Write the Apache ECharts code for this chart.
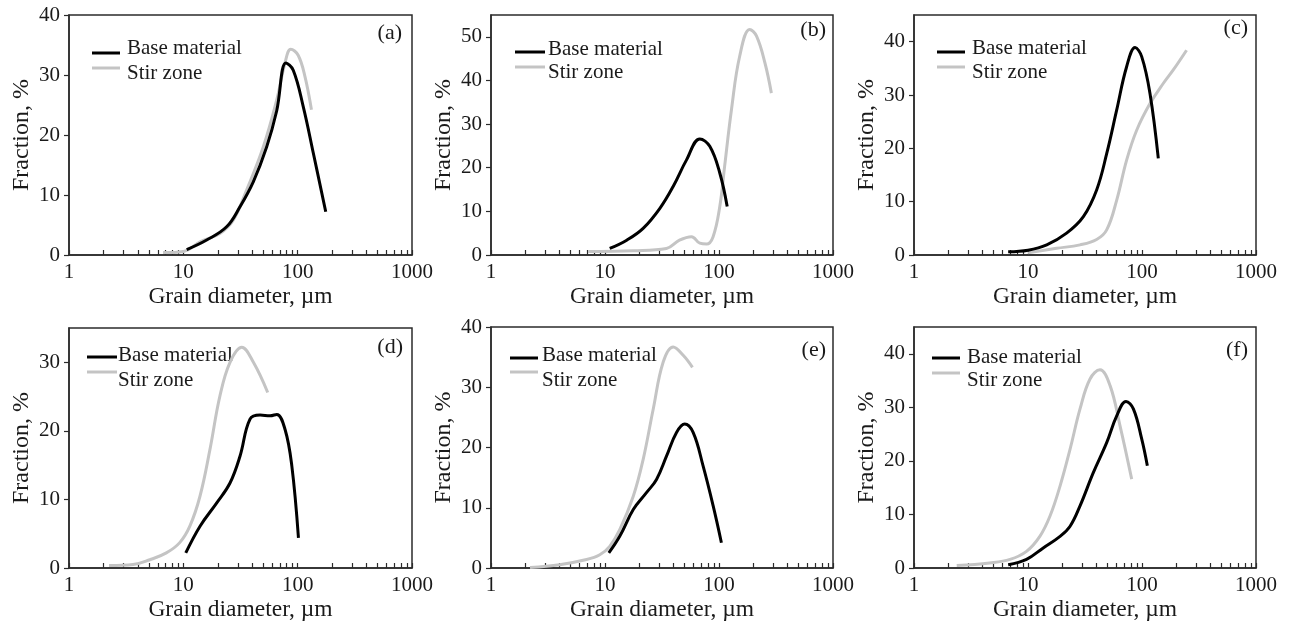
<!DOCTYPE html>
<html>
<head>
<meta charset="utf-8">
<script src="https://cdn.jsdelivr.net/npm/echarts@6/dist/echarts.min.js"></script>
<style>html,body{margin:0;padding:0;background:#fff}#c{width:1291px;height:623px}</style>
</head>
<body>
<div id="c"></div>
<script>
// ---- data: [grain diameter (µm), fraction (%)] ----
const baseA = [[10.7,0.9],[16,2.5],[23.9,4.7],[31.2,8],[40.9,12.2],[53.5,18],[65.5,24],[79,32],[91.5,30.8],[112,24.7],[137,17],[176,7.2]];
const stirA = [[6.65,0.4],[10,0.6],[14,2.2],[20.9,3.6],[27.3,5.8],[35.7,10.8],[50,18],[65.5,25.8],[77.5,32],[87,34.3],[101,33.3],[116,29.7],[132,24.2]];
const baseB = [[11,1.5],[15.5,3.4],[21.6,6.1],[30.3,10.7],[39.6,15.7],[51.9,21.8],[67.9,26.6],[83,24.9],[101.6,18.8],[118,11.1]];
const stirB = [[7.1,0.8],[17.7,1.0],[34.6,1.5],[45,3.4],[57.4,4.2],[67.9,2.7],[77.7,2.5],[88.8,4.2],[101.6,11.1],[112,20.3],[128.6,33.3],[152,45.6],[186,51.7],[213,50.2],[253,44],[288,37.1]];
const baseC = [[6.7,0.6],[10,0.9],[14.6,1.9],[21.8,4.1],[30.6,7.2],[40,12.2],[49,19],[60,27.2],[73.3,35.3],[87,38.9],[99.4,37.2],[117.5,30.3],[139,18.1]];
const stirC = [[10,0.4],[17.8,1.25],[28.6,1.9],[40,2.9],[49,4.7],[60,10.3],[73.3,17.8],[89.8,23.4],[117.5,28.4],[154,32.2],[188,34.7],[246,38.4]];
const baseD = [[10.5,2.2],[14,6.1],[19.6,9.5],[25.6,12.4],[31.3,16.3],[38.3,21.7],[46.9,22.3],[57.4,22.2],[65.6,22.4],[77.6,20.2],[88.9,14.9],[101.6,4.4]];
const stirD = [[2.24,0.35],[3.64,0.5],[5.1,1.2],[7.1,2.2],[9.3,3.7],[11.4,6.1],[14,10.5],[17.1,17.3],[20.9,25.1],[25.6,30],[32.4,32.2],[41,30],[54.7,25.6]];
const baseE = [[10.8,2.5],[13.5,5.3],[17.7,9.7],[23.1,12.5],[28.3,14.7],[34.7,18.6],[42.4,22.5],[50,23.9],[59.3,22.5],[72.6,16.9],[88.9,10.3],[105,4.2]];
const stirE = [[2.2,0.1],[4.0,0.55],[6.9,1.4],[9.0,2.2],[11,3.6],[13.5,6.4],[17.7,11.9],[21.6,18],[26.5,26.4],[32.4,34.2],[39.6,36.7],[48.5,35.3],[58.5,33.3]];
const baseF = [[6.7,0.6],[9.7,1.6],[13.6,3.75],[19.1,5.9],[23.4,7.8],[28.6,11.6],[37.4,17.8],[49,23.4],[60,28.4],[72.4,31.1],[84,29.7],[99.4,24.1],[111.4,19.1]];
const stirF = [[2.37,0.45],[4.6,0.95],[6.95,1.6],[9.7,3.1],[12.7,5.9],[15.6,9.7],[19.1,15.3],[23.4,22.2],[28.6,29.7],[35,35.3],[42.8,37],[52.4,34.1],[64.1,26.6],[81.2,16.6]];

const panelLabels = ['(a)','(b)','(c)','(d)','(e)','(f)'];
const yMaxes = [40, 55, 45, 35, 40, 45];
const yTickValues = [[0,10,20,30,40],[0,10,20,30,40,50],[0,10,20,30,40],[0,10,20,30],[0,10,20,30,40],[0,10,20,30,40]];
const xTickValues = [1,2,3,4,5,6,7,8,9,10,20,30,40,50,60,70,80,90,100,200,300,400,500,600,700,800,900,1000];
const xLabelValues = [1, 10, 100, 1000];
const seriesNames = ['Base material', 'Stir zone'];
const xName = 'Grain diameter, µm';
const yName = 'Fraction, %';

const baseSets = [baseA, baseB, baseC, baseD, baseE, baseF];
const stirSets = [stirA, stirB, stirC, stirD, stirE, stirF];

// ---- layout ----
const grids = [
  {left: 69, top: 15, width: 343, height: 240},
  {left: 491, top: 15, width: 342, height: 240},
  {left: 914, top: 15, width: 342, height: 240},
  {left: 69, top: 328, width: 343, height: 240},
  {left: 491, top: 327, width: 342, height: 241},
  {left: 914, top: 327, width: 342, height: 241}
];
// legend: [lineStart, lineEnd, textX, line1Y, line2Y, text1Y, text2Y] relative to grid
const legendPos = [
  [23, 51, 58, 38, 53, 33, 58],
  [24, 54, 57, 37, 52, 34, 57],
  [23, 51, 58, 37, 52, 33, 57],
  [18, 48, 49, 29, 44, 27, 52],
  [19, 47, 51, 31, 45, 28, 53],
  [18, 46, 53, 31, 46, 30, 53]
];
// panel label: right x offset from grid right, y relative to grid top
const labelPos = [[10, 18], [7, 15], [8, 13], [9, 19], [7, 23], [8, 23]];

const FONT = 'Liberation Serif';
const BLACK = '#000000';
const GREY = '#c4c4c4';
const AX = '#2b2b2b';
const TXT = '#1a1a1a';

const option = {
  backgroundColor: '#ffffff',
  animation: false,
  textStyle: {fontFamily: FONT},
  grid: [], xAxis: [], yAxis: [], series: [], graphic: []
};

grids.forEach((g, i) => {
  option.grid.push(Object.assign({show: true, borderColor: AX, borderWidth: 1.5, backgroundColor: 'transparent'}, g));
  option.xAxis.push({
    type: 'log', logBase: 10, min: 1, max: 1000, gridIndex: i,
    name: xName, nameLocation: 'middle', nameGap: 30,
    nameTextStyle: {fontFamily: FONT, fontSize: 23.5, color: TXT},
    axisLine: {show: true, lineStyle: {color: AX, width: 1.5}},
    axisTick: {show: true, inside: true, length: 5, customValues: xTickValues, lineStyle: {color: AX, width: 1.2}},
    axisLabel: {fontFamily: FONT, fontSize: 21, color: TXT, margin: 7, customValues: xLabelValues,
      formatter: v => String(Math.round(v))},
    splitLine: {show: false}
  });
  option.yAxis.push({
    type: 'value', min: 0, max: yMaxes[i], interval: 10, gridIndex: i,
    name: yName, nameLocation: 'middle', nameGap: 35,
    nameTextStyle: {fontFamily: FONT, fontSize: 24, color: TXT},
    axisLine: {show: true, lineStyle: {color: AX, width: 1.5}},
    axisTick: {show: true, inside: false, length: 5, customValues: yTickValues[i], lineStyle: {color: AX, width: 1.2}},
    axisLabel: {fontFamily: FONT, fontSize: 21, color: TXT, margin: 9, customValues: yTickValues[i]},
    splitLine: {show: false}
  });
  option.series.push({
    name: seriesNames[1], type: 'line', xAxisIndex: i, yAxisIndex: i,
    data: stirSets[i], smooth: 0.4, symbol: 'none',
    lineStyle: {color: GREY, width: 3}, itemStyle: {color: GREY}, z: 2
  });
  option.series.push({
    name: seriesNames[0], type: 'line', xAxisIndex: i, yAxisIndex: i,
    data: baseSets[i], smooth: 0.4, symbol: 'none',
    lineStyle: {color: BLACK, width: 3}, itemStyle: {color: BLACK}, z: 3
  });
  const lp = legendPos[i];
  option.graphic.push(
    {type: 'line', shape: {x1: g.left + lp[0], y1: g.top + lp[3], x2: g.left + lp[1], y2: g.top + lp[3]}, style: {stroke: BLACK, lineWidth: 3}, silent: true},
    {type: 'line', shape: {x1: g.left + lp[0], y1: g.top + lp[4], x2: g.left + lp[1], y2: g.top + lp[4]}, style: {stroke: GREY, lineWidth: 3}, silent: true},
    {type: 'text', x: g.left + lp[2], y: g.top + lp[5], style: {text: seriesNames[0], font: '21px "Liberation Serif"', fill: TXT, verticalAlign: 'middle'}, silent: true},
    {type: 'text', x: g.left + lp[2], y: g.top + lp[6], style: {text: seriesNames[1], font: '21px "Liberation Serif"', fill: TXT, verticalAlign: 'middle'}, silent: true},
    {type: 'text', x: g.left + g.width - labelPos[i][0], y: g.top + labelPos[i][1], style: {text: panelLabels[i], font: '22px "Liberation Serif"', fill: TXT, align: 'right', verticalAlign: 'middle'}, silent: true}
  );
});

const chart = echarts.init(document.getElementById('c'), null, {renderer: 'canvas'});
chart.setOption(option);
</script>
</body>
</html>
